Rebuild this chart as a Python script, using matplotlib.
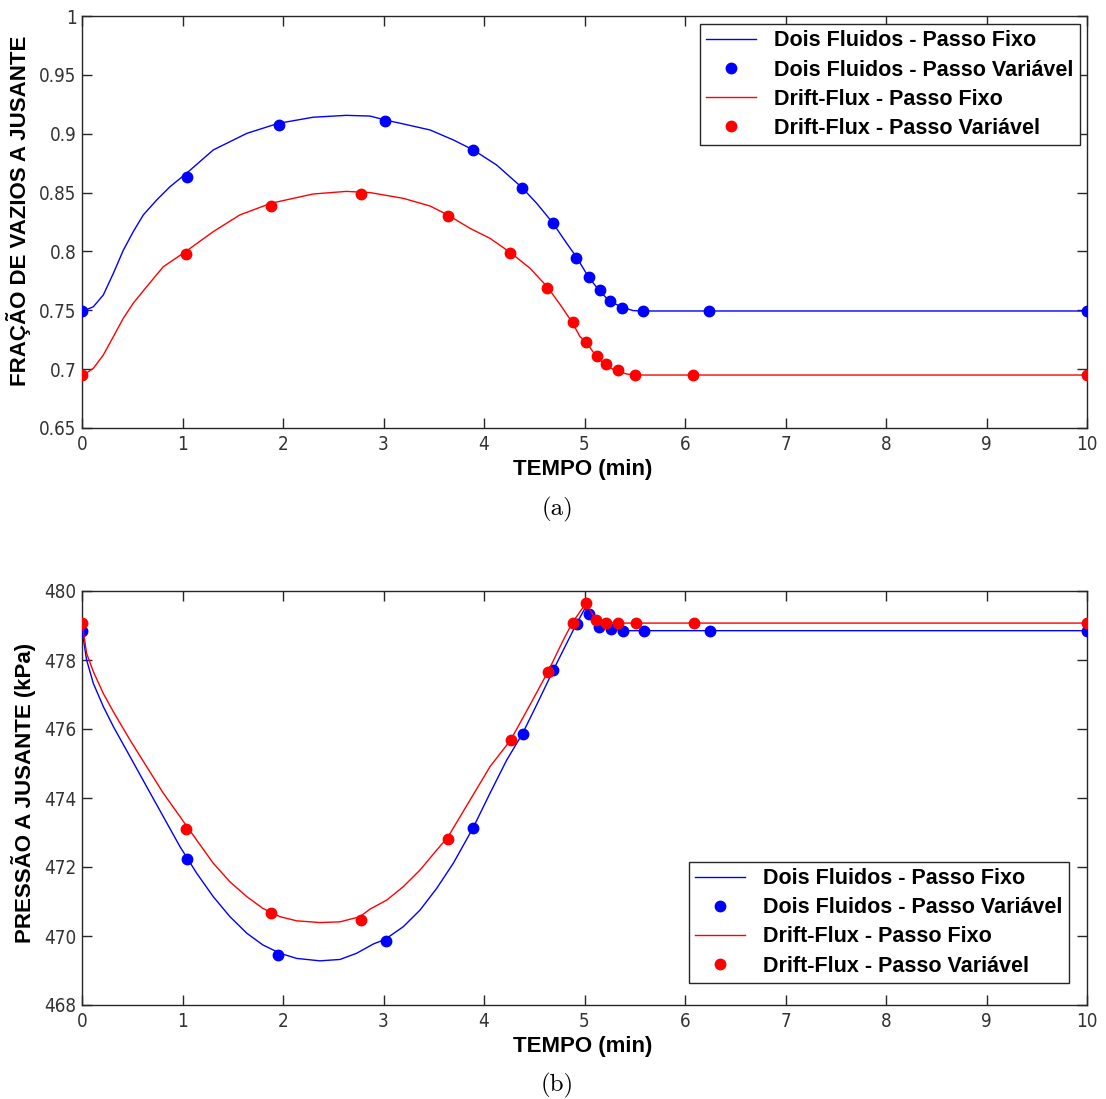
import matplotlib
matplotlib.use("Agg")
import matplotlib.pyplot as plt
from matplotlib.ticker import FuncFormatter
from matplotlib import font_manager as fm
import numpy as np

# ---------------- Data: (a) void fraction ----------------
t_a_df_fixo = [0, 0.113, 0.212, 0.312, 0.411, 0.51, 0.61, 0.743, 0.876, 1.04, 1.306, 1.64,
               1.953, 2.30, 2.63, 2.866, 3.015, 3.197, 3.463, 3.695, 3.894, 4.126, 4.375,
               4.524, 4.683, 4.822, 4.922, 5.038, 5.147, 5.247, 5.376, 5.486, 5.585, 10]
a_df_fixo = [0.749, 0.753, 0.763, 0.7814, 0.801, 0.8168, 0.831, 0.8437, 0.855, 0.8664,
             0.8862, 0.9003, 0.9088, 0.914, 0.9156, 0.915, 0.9117, 0.9083, 0.9032, 0.8947,
             0.8862, 0.8734, 0.8545, 0.8409, 0.8244, 0.807, 0.795, 0.7785, 0.7667, 0.7579,
             0.7525, 0.7497, 0.7494, 0.7494]
t_a_dr_fixo = [0, 0.113, 0.212, 0.312, 0.411, 0.51, 0.643, 0.809, 1.03, 1.306, 1.57, 1.88,
               2.30, 2.63, 2.866, 3.197, 3.463, 3.639, 3.861, 4.06, 4.265, 4.458, 4.634,
               4.773, 4.879, 4.955, 5.015, 5.111, 5.204, 5.32, 5.42, 5.502, 10]
a_dr_fixo = [0.6942, 0.7007, 0.712, 0.7276, 0.7432, 0.756, 0.770, 0.787, 0.7998, 0.8168,
             0.831, 0.8409, 0.8488, 0.851, 0.850, 0.8451, 0.8386, 0.831, 0.8196, 0.8111,
             0.7989, 0.7857, 0.7695, 0.753, 0.7395, 0.7276, 0.7231, 0.7115, 0.7035, 0.6984,
             0.6959, 0.695, 0.695]

t_a_df_var = [0, 1.045, 1.956, 3.015, 3.89, 4.38, 4.69, 4.92, 5.04, 5.15, 5.25, 5.37, 5.585, 6.24, 10]
a_df_var = [0.749, 0.863, 0.907, 0.911, 0.886, 0.854, 0.824, 0.794, 0.778, 0.767, 0.758,
            0.752, 0.7495, 0.749, 0.749]
t_a_dr_var = [0, 1.035, 1.88, 2.78, 3.64, 4.26, 4.63, 4.89, 5.01, 5.12, 5.21, 5.33, 5.505, 6.08, 10]
a_dr_var = [0.695, 0.798, 0.839, 0.849, 0.830, 0.799, 0.769, 0.740, 0.723, 0.711, 0.704,
            0.699, 0.695, 0.695, 0.695]

# ---------------- Data: (b) pressure ----------------
t_p_df_fixo = [0, 0.046, 0.113, 0.212, 0.312, 0.478, 0.643, 0.809, 0.975, 1.141, 1.306, 1.472,
               1.64, 1.80, 1.97, 2.136, 2.368, 2.567, 2.733, 2.90, 3.015, 3.197, 3.363, 3.529,
               3.695, 3.894, 4.06, 4.226, 4.382, 4.524, 4.69, 4.822, 4.922, 5.005, 5.04, 5.147,
               5.254, 5.386, 10]
p_df_fixo = [478.87, 478.0, 477.32, 476.65, 476.07, 475.2, 474.33, 473.46, 472.59, 471.82,
             471.14, 470.56, 470.08, 469.74, 469.50, 469.35, 469.28, 469.32, 469.50, 469.77,
             469.90, 470.27, 470.75, 471.38, 472.11, 473.15, 474.14, 475.10, 475.86, 476.70,
             477.71, 478.48, 479.06, 479.50, 479.35, 478.97, 478.89, 478.85, 478.85]
t_p_dr_fixo = [0, 0.046, 0.113, 0.212, 0.312, 0.478, 0.643, 0.809, 0.975, 1.141, 1.306, 1.472,
               1.64, 1.80, 1.97, 2.136, 2.368, 2.567, 2.766, 2.866, 3.032, 3.197, 3.363, 3.529,
               3.639, 3.861, 4.06, 4.265, 4.458, 4.64, 4.789, 4.879, 4.955, 5.015, 5.111, 5.204,
               5.32, 10]
p_dr_fixo = [479.08, 478.19, 477.66, 477.03, 476.50, 475.68, 474.91, 474.14, 473.46, 472.78,
             472.11, 471.57, 471.14, 470.80, 470.56, 470.44, 470.39, 470.41, 470.56, 470.78,
             471.04, 471.43, 471.91, 472.49, 472.86, 473.94, 474.91, 475.68, 476.70, 477.68,
             478.58, 479.08, 479.40, 479.64, 479.18, 479.10, 479.07, 479.07]

t_p_df_var = [0, 1.045, 1.955, 3.02, 3.89, 4.385, 4.69, 4.93, 5.04, 5.14, 5.26, 5.38, 5.59, 6.25, 10]
p_df_var = [478.85, 472.22, 469.46, 469.86, 473.14, 475.86, 477.71, 479.03, 479.32, 478.97,
            478.89, 478.85, 478.85, 478.85, 478.85]
t_p_dr_var = [0, 1.035, 1.88, 2.78, 3.64, 4.265, 4.635, 4.885, 5.015, 5.11, 5.21, 5.33, 5.51, 6.085, 10]
p_dr_var = [479.08, 473.11, 470.66, 470.46, 472.82, 475.67, 477.64, 479.08, 479.64, 479.15,
            479.07, 479.07, 479.07, 479.07, 479.07]

labels = ["Dois Fluidos - Passo Fixo", "Dois Fluidos - Passo Variável",
          "Drift-Flux - Passo Fixo", "Drift-Flux - Passo Variável"]
xlabel = "TEMPO (min)"
ylabel_a = "FRAÇÃO DE VAZIOS A JUSANTE"
ylabel_b = "PRESSÃO A JUSANTE (kPa)"

BLUE = "#0000ff"
RED = "#ff0000"
AXC = "#262626"

# tick font: prefer a narrow sans if present
names = {f.name for f in fm.fontManager.ttflist}
tick_prop = None
for n in ["Liberation Sans Narrow", "Arial Narrow", "DejaVu Sans Condensed"]:
    if n in names:
        tick_prop = fm.FontProperties(family=n, size=14)
        break
if tick_prop is None:
    cond = [f for f in fm.fontManager.ttflist
            if "condensed" in f.fname.lower() and f.name == "DejaVu Sans"
            and f.weight in (400, "normal") and f.style == "normal"]
    if cond:
        tick_prop = fm.FontProperties(fname=cond[0].fname, size=13.5)
    else:
        tick_prop = fm.FontProperties(family="Liberation Sans", size=12)

fig = plt.figure(figsize=(11.06, 10.99), dpi=100)
ax1 = fig.add_axes([82/1106, 1-428/1099, 1005/1106, 412/1099])
ax2 = fig.add_axes([82/1106, 1-1005/1099, 1005/1106, 414/1099])

labfont = dict(family=["Liberation Sans", "DejaVu Sans"], weight="bold", size=16)
legfont = dict(family=["Liberation Sans", "DejaVu Sans"], weight="bold", size=15.5)

def style(ax):
    for s in ax.spines.values():
        s.set_color(AXC)
        s.set_linewidth(1.0)
    ax.set_xlim(0, 10)
    ax.set_xticks(range(0, 11))
    ax.tick_params(direction="in", length=7, width=1, color=AXC, top=True, right=True,
                   labelcolor="#333333")
    ax.tick_params(axis="x", pad=5)
    ax.tick_params(axis="y", pad=4)
    for lab in ax.get_xticklabels() + ax.get_yticklabels():
        lab.set_fontproperties(tick_prop)
    ax.set_xlabel(xlabel, **labfont, color="black")

def plot_set(ax, tb, yb, tr, yr, tbv, ybv, trv, yrv):
    h1, = ax.plot(tb, yb, color=BLUE, lw=1.0, zorder=2)
    h2, = ax.plot(tbv, ybv, ls="none", marker="o", ms=7.5, color=BLUE, zorder=3)
    h3, = ax.plot(tr, yr, color=RED, lw=1.0, zorder=4)
    h4, = ax.plot(trv, yrv, ls="none", marker="o", ms=7.5, color=RED, zorder=5)
    return [h1, h2, h3, h4]

legkw = dict(borderaxespad=0, prop=legfont, frameon=True, fancybox=False,
             handlelength=2.3, handletextpad=0.85, labelspacing=0.38, borderpad=0.3,
             numpoints=1, framealpha=1)

# (a)
hs = plot_set(ax1, t_a_df_fixo, a_df_fixo, t_a_dr_fixo, a_dr_fixo,
              t_a_df_var, a_df_var, t_a_dr_var, a_dr_var)
ax1.set_ylim(0.65, 1.0)
ax1.set_yticks(np.arange(0.65, 1.0001, 0.05))
ax1.yaxis.set_major_formatter(FuncFormatter(lambda v, p: f"{round(v, 2):g}"))
style(ax1)
ax1.set_ylabel(ylabel_a, **labfont, color="black")
ax1.yaxis.set_label_coords(-0.051, 0.527)
ax1.xaxis.set_label_coords(0.4985, -0.075)
leg1 = ax1.legend(hs, labels, loc="upper right", bbox_to_anchor=(0.993, 0.9806), **legkw)
leg1.get_frame().set_edgecolor(AXC)
leg1.get_frame().set_linewidth(1.0)

# (b)
hs = plot_set(ax2, t_p_df_fixo, p_df_fixo, t_p_dr_fixo, p_dr_fixo,
              t_p_df_var, p_df_var, t_p_dr_var, p_dr_var)
ax2.set_ylim(468, 480)
ax2.set_yticks(range(468, 481, 2))
style(ax2)
ax2.set_ylabel(ylabel_b, **labfont, color="black")
ax2.yaxis.set_label_coords(-0.0458, 0.512)
ax2.xaxis.set_label_coords(0.4985, -0.075)
leg2 = ax2.legend(hs, labels, loc="lower right", bbox_to_anchor=(0.982, 0.053), **legkw)
leg2.get_frame().set_edgecolor(AXC)
leg2.get_frame().set_linewidth(1.0)

fig.text(557/1106, 1-509/1099, "(a)", ha="center", va="center", fontsize=18, family="cmr10")
fig.text(557/1106, 1-1085/1099, "(b)", ha="center", va="center", fontsize=18, family="cmr10")

fig.savefig("out.png", dpi=100, facecolor="white")
